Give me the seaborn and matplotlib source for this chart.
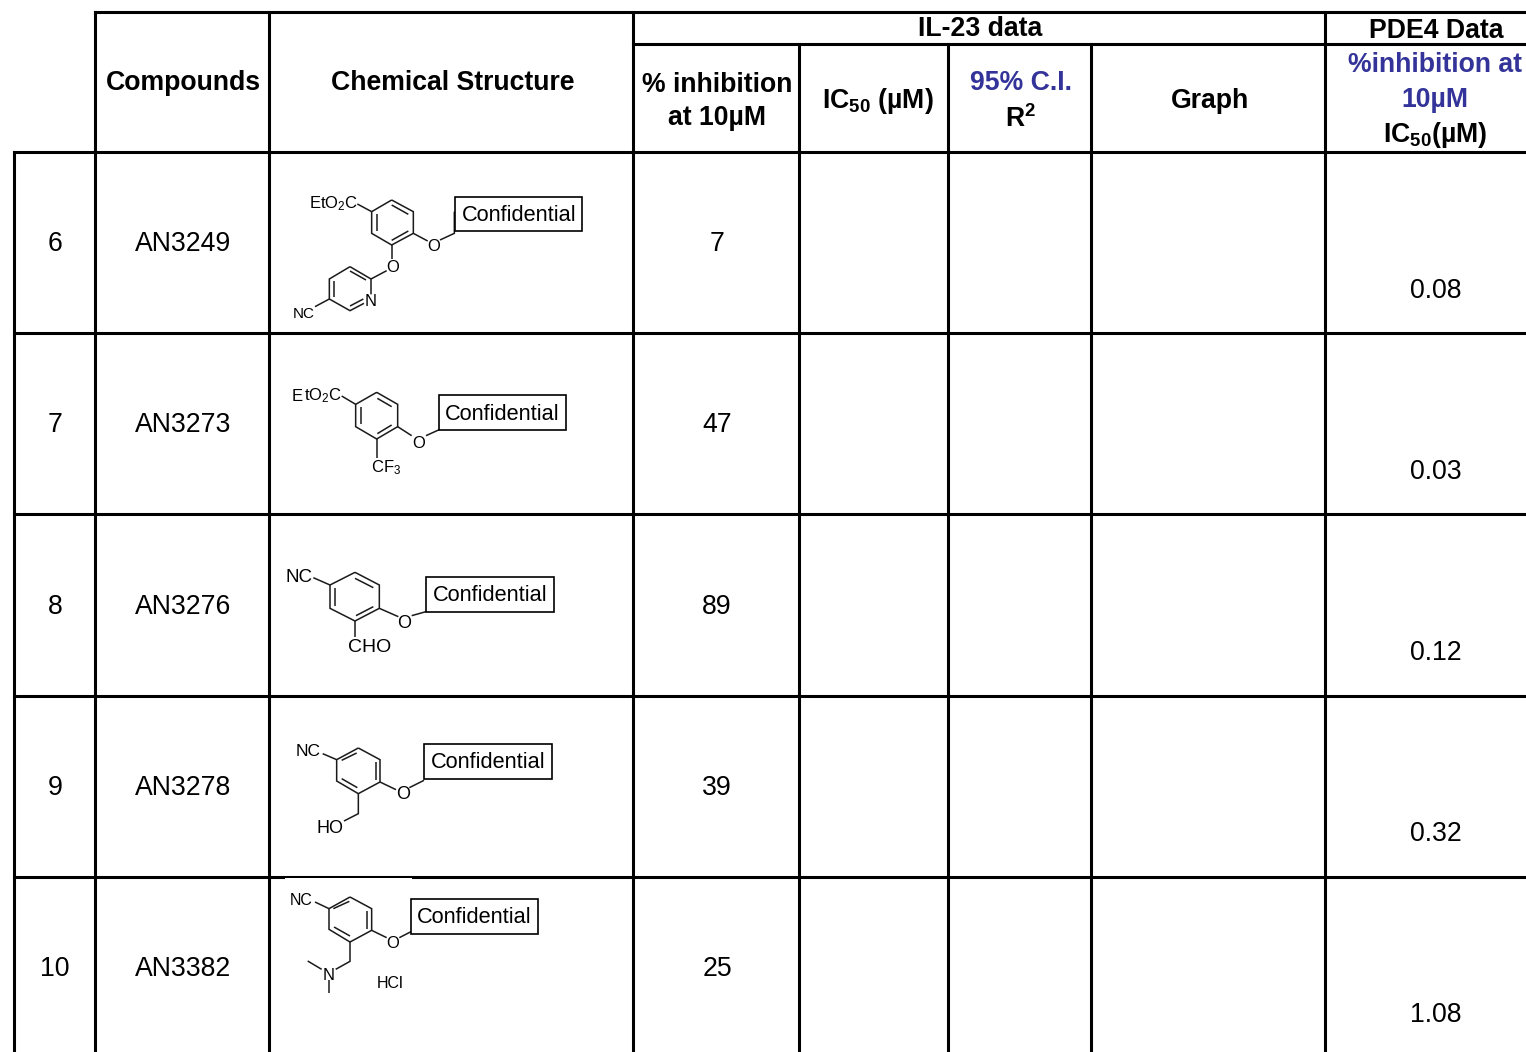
import matplotlib
matplotlib.use("Agg")
import matplotlib.pyplot as plt
import pandas as pd
import seaborn as sns
from matplotlib.patches import Rectangle

# ---- table content -------------------------------------------------------
row_ids = ["6", "7", "8", "9", "10"]
compounds = ["AN3249", "AN3273", "AN3276", "AN3278", "AN3382"]
inhibition_10uM = [7, 47, 89, 39, 25]
pde4_ic50 = ["0.08", "0.03", "0.12", "0.32", "1.08"]

# ---- table geometry (pixels) ---------------------------------------------
col_edges = [14, 95, 269, 633, 799, 948, 1091, 1325]
row_edges = [152, 333, 514, 696, 877]
row_base = [251, 432, 614, 795, 976]
pde4_base = [298.5, 479, 660, 841, 1022]
WIDTH, HEIGHT = 1526, 1052
BLUE = "#333399"
FONT = "Liberation Sans"

sns.set_theme(style="white")
plt.rcParams["font.family"] = [FONT, "DejaVu Sans"]
plt.rcParams["mathtext.fontset"] = "custom"
plt.rcParams["mathtext.rm"] = FONT
plt.rcParams["mathtext.default"] = "regular"

fig = plt.figure(figsize=(WIDTH / 100, HEIGHT / 100), dpi=100, facecolor="white")
ax = fig.add_axes([0, 0, 1, 1])


def segments_frame(segments, dx=0, dy=0, scale=1.0):
    recs = []
    for i, seg in enumerate(segments):
        for k, (x, y) in enumerate(seg):
            recs.append({"seg": i, "order": k, "x": dx + x / scale, "y": dy + y / scale})
    return pd.DataFrame(recs)


def draw_segments(frame, lw, color="black", cap="butt"):
    sns.lineplot(data=frame, x="x", y="y", units="seg", estimator=None, sort=False,
                 color=color, linewidth=lw, legend=False, ax=ax,
                 solid_capstyle=cap, solid_joinstyle="miter")


# ---- rules ---------------------------------------------------------------
rules = [
    [(95, 12), (WIDTH, 12)],
    [(633, 44), (WIDTH, 44)],
]
for y in row_edges:
    rules.append([(14, y), (WIDTH, y)])
rules.append([(14, row_edges[0]), (14, HEIGHT)])
rules.append([(95, 12), (95, HEIGHT)])
rules.append([(269, 12), (269, HEIGHT)])
rules.append([(633, 12), (633, HEIGHT)])
for x in col_edges[4:7]:
    rules.append([(x, 44), (x, HEIGHT)])
rules.append([(1325, 12), (1325, HEIGHT)])
draw_segments(segments_frame(rules), lw=2.2, cap="projecting")

# pasted picture of structure 10 clips the rule above it
ax.add_patch(Rectangle((285, 877.6), 127, 2.5, fc="white", ec="none", zorder=5))

# ---- text helpers --------------------------------------------------------
def cell(x, y, s, size=19.2, bold=False, color="black", ha="center", zorder=6):
    ax.text(x, y, s, fontsize=size, fontweight="bold" if bold else "normal",
            color=color, ha=ha, va="baseline", zorder=zorder)


# ---- header --------------------------------------------------------------
cell(183, 90, "Compounds", bold=True)
cell(452.5, 90, "Chemical Structure", bold=True)
cell(717, 91.5, "% inhibition", bold=True)
cell(717, 125, "at 10µM", bold=True)
cell(878, 108, "IC$_{50}$ (µM)", bold=True)
cell(1021, 89.5, "95% C.I.", bold=True, color=BLUE)
cell(1021, 127, "R$^{2}$", bold=True)
cell(1209.5, 108, "Graph", bold=True)
cell(980, 36, "IL-23 data", bold=True)
cell(1436, 38, "PDE4 Data", bold=True)
cell(1435, 72, "%inhibition at", bold=True, color=BLUE)
cell(1435, 107, "10µM", bold=True, color=BLUE)
cell(1435, 141.5, "IC$_{50}$(µM)", bold=True)

# ---- body ----------------------------------------------------------------
for i, base in enumerate(row_base):
    cell(55, base, row_ids[i])
    cell(183.5, base, compounds[i])
    cell(717, base, str(inhibition_10uM[i]))
    cell(1435.5, pde4_base[i], pde4_ic50[i])

# ---- chemical structures (zoomed drawing units, 3 = 1 px) ---------------
structures = [
    dict(off=(270, 155),
         bonds=[[(365, 135), (430, 170), (430, 235), (365, 270), (305, 235), (305, 170), (365, 135)],
                [(365, 150), (415, 178)], [(415, 228), (365, 256)], [(320, 178), (320, 228)],
                [(305, 170), (262, 147)],
                [(430, 235), (473, 258)], [(510, 255), (553, 235), (553, 170)],
                [(365, 270), (365, 312)], [(350, 347), (303, 372)],
                [(240, 335), (303, 372), (303, 418)], [(240, 335), (178, 372), (178, 432), (240, 467), (282, 445)],
                [(240, 348), (288, 375)], [(192, 378), (192, 425)], [(240, 453), (280, 432)],
                [(178, 432), (135, 455)]],
         labels=[("EtO$_{2}$C", 190, 160, 12), ("O", 490, 288, 12), ("O", 367, 352, 12),
                 ("N", 303, 452, 12), ("NC", 100, 490, 11)],
         box=(556, 125, 937, 227)),
    dict(off=(270, 335),
         bonds=[[(320, 172), (383, 208), (383, 275), (320, 312), (257, 275), (257, 208), (320, 172)],
                [(322, 190), (365, 215)], [(272, 215), (272, 268)], [(322, 296), (365, 270)],
                [(257, 208), (215, 183)], [(320, 312), (320, 370)],
                [(383, 275), (425, 302)], [(468, 302), (510, 283)]],
         labels=[("E", 82, 197, 12), ("tO$_{2}$C", 160, 197, 12), ("CF$_{3}$", 347, 413, 12),
                 ("O", 447, 338, 12)],
         box=(507, 180, 888, 285)),
    dict(off=(270, 515),
         bonds=[[(255, 172), (328, 210), (328, 280), (255, 318), (180, 280), (180, 210), (255, 172)],
                [(255, 190), (310, 218)], [(195, 218), (195, 272)], [(258, 302), (310, 275)],
                [(130, 188), (180, 210)], [(255, 318), (255, 365)],
                [(328, 280), (385, 305)], [(425, 302), (468, 290)]],
         labels=[("NC", 86, 200, 13.5), ("CHO", 300, 412, 14), ("O", 403, 338, 13)],
         box=(468, 185, 851, 290)),
    dict(off=(270, 697),
         bonds=[[(265, 153), (330, 188), (330, 255), (265, 290), (200, 252), (200, 188), (265, 153)],
                [(215, 190), (260, 168)], [(318, 195), (318, 250)], [(215, 245), (262, 272)],
                [(158, 170), (200, 188)], [(265, 290), (265, 350), (222, 372)],
                [(330, 255), (378, 278)], [(418, 272), (462, 250)]],
         labels=[("NC", 115, 176, 12.5), ("HO", 180, 407, 13), ("O", 398, 307, 13)],
         box=(463, 142, 845, 245)),
    dict(off=(270, 872),
         bonds=[[(240, 75), (305, 110), (305, 175), (240, 210), (177, 172), (177, 110), (240, 75)],
                [(190, 110), (238, 88)], [(290, 118), (290, 170)], [(192, 165), (240, 192)],
                [(135, 90), (177, 110)], [(240, 210), (240, 268), (197, 292)],
                [(155, 292), (113, 267)], [(177, 325), (177, 362)],
                [(305, 175), (350, 197)], [(388, 197), (425, 178)]],
         labels=[("NC", 95, 98, 11.5), ("N", 177, 323, 12), ("HCl", 360, 347, 11.5),
                 ("O", 367, 227, 12)],
         box=(423, 80, 805, 185)),
]

for st in structures:
    ox, oy = st["off"]
    draw_segments(segments_frame(st["bonds"], ox, oy, 3.0), lw=1.1, color="#1a1a1a")
    for s, zx, zy, size in st["labels"]:
        cell(ox + zx / 3, oy + zy / 3, s, size=size)
    x0, y0, x1, y1 = st["box"]
    ax.add_patch(Rectangle((ox + x0 / 3, oy + y0 / 3), (x1 - x0) / 3, (y1 - y0) / 3,
                           fc="white", ec="black", lw=1.2, zorder=5))
    cell(ox + (x0 + x1) / 6, oy + (y0 + y1) / 6 + 7, "Confidential", size=15.7)

ax.set_xlim(0, WIDTH)
ax.set_ylim(HEIGHT, 0)
ax.axis("off")
fig.savefig("out.png", dpi=100, facecolor="white")
